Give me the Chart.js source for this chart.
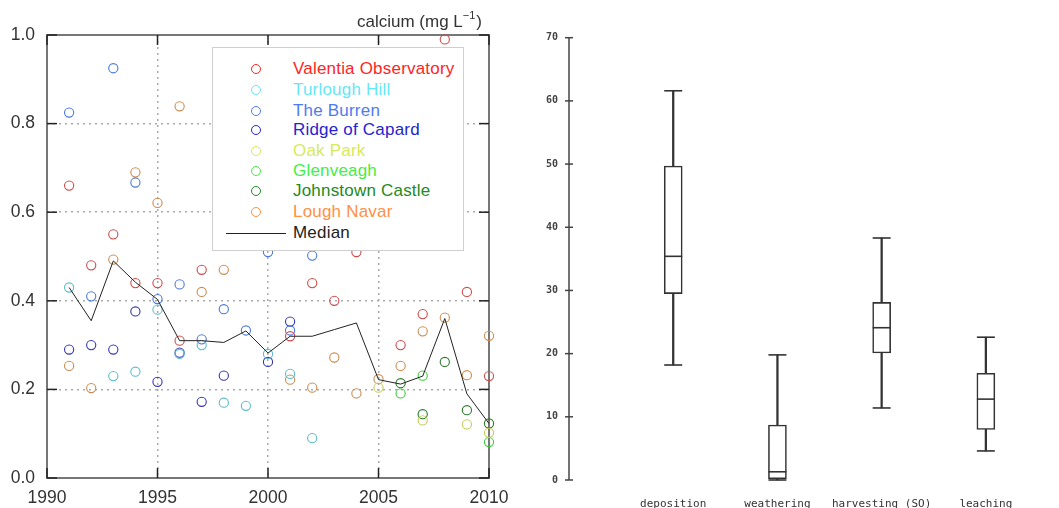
<!DOCTYPE html>
<html>
<head>
<meta charset="utf-8">
<title>calcium</title>
<script src="https://cdn.jsdelivr.net/npm/chart.js@4.4.1/dist/chart.umd.min.js"></script>
<style>
  body { margin: 0; background: #fff; }
  #wrap { position: relative; width: 1059px; height: 508px; overflow: hidden; }
  #left { position: absolute; left: 0; top: 0; }
  #right { position: absolute; left: 520px; top: 0; }
  #legend {
    position: absolute; left: 212px; top: 47px; width: 250px; height: 202px;
    background: #fff; border: 1px solid #cfcfcf;
    font-family: "Liberation Sans", Arial, sans-serif; font-size: 17px; letter-spacing: 0.2px;
  }
  .row { position: absolute; left: 0; width: 250px; height: 20px; }
  .dot { position: absolute; left: 38px; top: 5px; width: 8px; height: 8px; border-radius: 50%; border: 1px solid; }
  .lbl { position: absolute; left: 80px; top: 0; line-height: 20px; white-space: nowrap; }
  .med { position: absolute; left: 13px; top: 10px; width: 60px; height: 0; border-top: 1.5px solid #222; }
</style>
</head>
<body>
<div id="wrap">
  <canvas id="left" width="520" height="508"></canvas>
  <canvas id="right" width="539" height="508"></canvas>
  <div id="legend"></div>
</div>
<script>
// ---- left panel data (calcium, mg/L) ----
const years = [1991, 1992, 1993, 1994, 1995, 1996, 1997, 1998, 1999, 2000,
               2001, 2002, 2003, 2004, 2005, 2006, 2007, 2008, 2009, 2010];

const siteNames = ['Valentia Observatory', 'Turlough Hill', 'The Burren', 'Ridge of Capard',
                   'Oak Park', 'Glenveagh', 'Johnstown Castle', 'Lough Navar'];
const legendColors = ['#ff2424', '#66e6f6', '#4d7bf0', '#2424d0', '#d6ea5c', '#44ee44', '#228a22', '#ff9044'];
const pointColors  = ['#d04a4a', '#5cbccc', '#4a78dc', '#3434b4', '#c4cc5a', '#3ccc3c', '#2a7a2a', '#cc8c50'];

const valentia   = [0.66, 0.48, 0.55, 0.44, 0.44, 0.31, 0.47, null, null, null, 0.32, 0.44, 0.40, 0.51, null, 0.30, 0.37, 0.99, 0.42, 0.23];
const turlough   = [0.43, null, 0.23, 0.24, 0.38, 0.28, 0.30, 0.17, 0.163, 0.28, 0.235, 0.09, null, null, null, null, null, null, null, null];
const burren     = [0.825, 0.41, 0.925, 0.667, 0.404, 0.437, 0.313, 0.381, 0.333, 0.51, 0.333, 0.502, null, null, null, null, null, null, null, null];
const ridge      = [0.29, 0.30, 0.29, 0.376, 0.217, 0.283, 0.172, 0.231, null, 0.262, 0.353, null, null, null, null, null, null, null, null, null];
const oakPark    = [null, null, null, null, null, null, null, null, null, null, null, null, null, null, 0.204, null, 0.13, null, 0.121, 0.102];
const glenveagh  = [null, null, null, null, null, null, null, null, null, null, null, null, null, null, null, 0.191, 0.231, null, null, 0.081];
const johnstown  = [null, null, null, null, null, null, null, null, null, null, null, null, null, null, null, 0.214, 0.144, 0.262, 0.153, 0.123];
const loughNavar = [0.253, 0.203, 0.493, 0.69, 0.621, 0.839, 0.42, 0.47, null, null, 0.222, 0.204, 0.272, 0.191, 0.223, 0.253, 0.331, 0.362, 0.232, 0.321];
const medianValues = [0.43, 0.355, 0.49, 0.442, 0.403, 0.31, 0.31, 0.306, 0.332, 0.282, 0.32, 0.32, 0.335, 0.35, 0.222, 0.212, 0.23, 0.36, 0.19, 0.123];

const siteValues = [valentia, turlough, burren, ridge, oakPark, glenveagh, johnstown, loughNavar];
const xTicks = [1990, 1995, 2000, 2005, 2010];
const yTicks = [0, 0.2, 0.4, 0.6, 0.8, 1.0];

// ---- right panel data (box plots) ----
const boxLabels = ['deposition', 'weathering', 'harvesting (SO)', 'leaching'];
const boxPos    = [1, 2, 3, 4];
const boxMin    = [18.2, 0, 11.4, 4.6];
const boxQ1     = [29.5, 0.2, 20.1, 8.0];
const boxMedian = [35.4, 1.3, 24.1, 12.8];
const boxQ3     = [49.7, 8.7, 28.1, 16.9];
const boxMax    = [61.6, 19.8, 38.3, 22.6];
const rightTicks = [0, 10, 20, 30, 40, 50, 60, 70];

Chart.defaults.font.family = '"Liberation Sans", Arial, sans-serif';
Chart.defaults.color = '#333';

function line(ctx, x1, y1, x2, y2) {
  ctx.beginPath(); ctx.moveTo(x1, y1); ctx.lineTo(x2, y2); ctx.stroke();
}

// frame + inward tick marks for the left panel
const leftFrame = {
  id: 'leftFrame',
  beforeDatasetsDraw(chart) {
    const { ctx, chartArea: a, scales: { x, y } } = chart;
    ctx.save();
    ctx.strokeStyle = '#777';
    ctx.lineWidth = 2;
    ctx.strokeRect(a.left, a.top, a.right - a.left, a.bottom - a.top);
    ctx.strokeStyle = '#222';
    ctx.lineWidth = 1.5;
    yTicks.forEach(v => {
      const py = y.getPixelForValue(v);
      line(ctx, a.left, py, a.left + 10, py);
      line(ctx, a.right - 10, py, a.right, py);
    });
    xTicks.forEach(v => {
      const px = x.getPixelForValue(v);
      line(ctx, px, a.top, px, a.top + 10);
      line(ctx, px, a.bottom - 10, px, a.bottom);
    });
    ctx.restore();
  },
  afterDraw(chart) {
    const { ctx } = chart;
    ctx.save();
    ctx.fillStyle = '#333';
    ctx.textBaseline = 'alphabetic';
    ctx.textAlign = 'left';
    ctx.font = '17px "Liberation Sans", Arial, sans-serif';
    const main = 'calcium (mg L';
    const sup = '\u22121';
    const w1 = ctx.measureText(main).width;
    ctx.font = '11px "Liberation Sans", Arial, sans-serif';
    const w2 = ctx.measureText(sup).width;
    ctx.font = '17px "Liberation Sans", Arial, sans-serif';
    const w3 = ctx.measureText(')').width;
    const x0 = 482 - (w1 + w2 + w3 + 1);
    ctx.fillText(main, x0, 27);
    ctx.font = '11px "Liberation Sans", Arial, sans-serif';
    ctx.fillText(sup, x0 + w1, 19);
    ctx.font = '17px "Liberation Sans", Arial, sans-serif';
    ctx.fillText(')', x0 + w1 + w2 + 1, 27);
    ctx.restore();
  }
};

const leftDatasets = siteNames.map((name, i) => ({
  type: 'scatter',
  label: name,
  data: years.map((yr, k) => ({ x: yr, y: siteValues[i][k] })).filter(p => p.y !== null),
  borderColor: pointColors[i],
  backgroundColor: 'rgba(0,0,0,0)',
  pointRadius: 4.6,
  pointBorderWidth: 1.1,
  clip: false,
  order: 2
}));
leftDatasets.push({
  type: 'line',
  label: 'Median',
  data: years.map((yr, k) => ({ x: yr, y: medianValues[k] })),
  borderColor: '#222',
  borderWidth: 1,
  pointRadius: 0,
  tension: 0,
  order: 1
});

new Chart(document.getElementById('left'), {
  type: 'scatter',
  data: { datasets: leftDatasets },
  options: {
    responsive: false,
    animation: false,
    events: [],
    layout: { padding: { top: 35, right: 31, left: 0, bottom: 0 } },
    plugins: { legend: { display: false }, tooltip: { enabled: false } },
    scales: {
      x: {
        type: 'linear', min: 1990, max: 2010,
        afterFit: s => { s.height = 30; },
        afterBuildTicks: s => { s.ticks = xTicks.map(v => ({ value: v })); },
        grid: { color: '#aaa', lineWidth: 1.5, drawTicks: false },
        border: { display: false, dash: [2, 4] },
        ticks: { padding: 10, font: { size: 17.5 }, color: '#333', callback: v => String(v) }
      },
      y: {
        min: 0, max: 1,
        afterFit: s => { s.width = 47; },
        afterBuildTicks: s => { s.ticks = yTicks.map(v => ({ value: v })); },
        grid: { color: '#aaa', lineWidth: 1.5, drawTicks: false },
        border: { display: false, dash: [2, 4] },
        ticks: { padding: 12, font: { size: 17.5 }, color: '#333', callback: v => v.toFixed(1) }
      }
    }
  },
  plugins: [leftFrame]
});

// legend box on top of the plot
const legendEl = document.getElementById('legend');
const rowTops = [11, 32, 53, 72, 93, 113, 133, 154];
siteNames.forEach((name, i) => {
  const row = document.createElement('div');
  row.className = 'row';
  row.style.top = rowTops[i] + 'px';
  row.innerHTML = `<span class="dot" style="border-color:${legendColors[i]}"></span>` +
                  `<span class="lbl" style="color:${legendColors[i]}">${name}</span>`;
  legendEl.appendChild(row);
});
const medRow = document.createElement('div');
medRow.className = 'row';
medRow.style.top = '175px';
medRow.innerHTML = '<span class="med"></span><span class="lbl" style="color:#222">Median</span>';
legendEl.appendChild(medRow);

// axis line with crossing ticks for the right panel
const rightAxis = {
  id: 'rightAxis',
  beforeDatasetsDraw(chart) {
    const { ctx, scales: { x, y } } = chart;
    const ax = x.getPixelForValue(0);
    ctx.save();
    ctx.strokeStyle = '#444';
    ctx.lineWidth = 1.5;
    line(ctx, ax, y.getPixelForValue(70), ax, y.getPixelForValue(0));
    rightTicks.forEach(v => {
      const py = y.getPixelForValue(v);
      line(ctx, ax - 4, py, ax + 4, py);
    });
    ctx.restore();
  }
};

const boxColor = '#333';
new Chart(document.getElementById('right'), {
  type: 'bar',
  data: {
    datasets: [
      {
        type: 'scatter',
        data: boxPos.map((p, i) => ({ x: p, y: boxMedian[i] }))
          .concat(boxPos.map((p, i) => ({ x: p, y: boxMax[i] })))
          .concat(boxPos.map((p, i) => ({ x: p, y: boxMin[i] }))),
        pointStyle: 'line',
        pointRadius: 9,
        pointBorderWidth: 1.6,
        borderColor: boxColor,
        clip: false,
        order: 1
      },
      {
        type: 'bar',
        data: boxPos.map((p, i) => ({ x: p, y: [boxQ1[i], boxQ3[i]] })),
        backgroundColor: '#fff',
        borderColor: boxColor,
        borderWidth: 1.6,
        borderSkipped: false,
        barThickness: 18,
        grouped: false,
        clip: false,
        order: 2
      },
      {
        type: 'bar',
        data: boxPos.map((p, i) => ({ x: p, y: [boxMin[i], boxMax[i]] })),
        backgroundColor: boxColor,
        borderWidth: 0,
        barThickness: 1.6,
        grouped: false,
        clip: false,
        order: 3
      }
    ]
  },
  options: {
    responsive: false,
    animation: false,
    events: [],
    layout: { padding: { top: 37.7, right: 7, left: 0, bottom: 0 } },
    plugins: { legend: { display: false }, tooltip: { enabled: false } },
    scales: {
      x: {
        type: 'linear', min: 0, max: 4.6, offset: false,
        afterFit: s => { s.height = 28; },
        afterBuildTicks: s => { s.ticks = boxPos.map(v => ({ value: v })); },
        grid: { display: false, drawTicks: false, offset: false },
        border: { display: false },
        ticks: {
          padding: 18, color: '#333',
          font: { family: '"DejaVu Sans Mono", monospace', size: 11 },
          callback: v => boxLabels[boxPos.indexOf(v)]
        }
      },
      y: {
        min: 0, max: 70,
        afterFit: s => { s.width = 49; },
        afterBuildTicks: s => { s.ticks = rightTicks.map(v => ({ value: v })); },
        grid: { display: false, drawTicks: false },
        border: { display: false },
        ticks: {
          padding: 11, color: '#444',
          font: { family: '"DejaVu Sans Mono", monospace', size: 10, weight: 'bold' }
        }
      }
    }
  },
  plugins: [rightAxis]
});
</script>
</body>
</html>
